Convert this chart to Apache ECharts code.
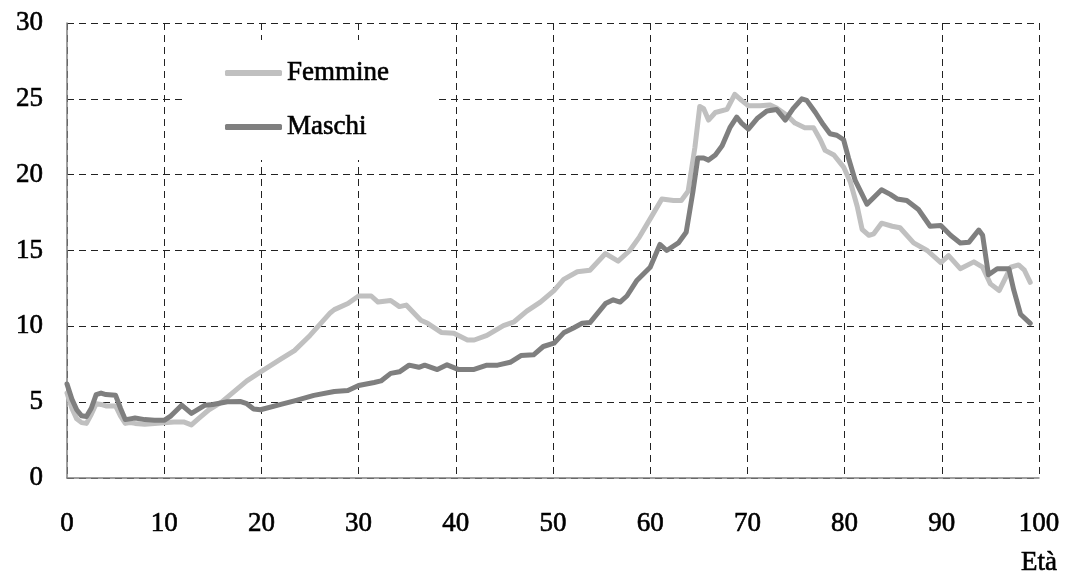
<!DOCTYPE html>
<html>
<head>
<meta charset="utf-8">
<script src="https://cdn.jsdelivr.net/npm/echarts@6/dist/echarts.min.js"></script>
<style>
html,body{margin:0;padding:0;background:#fff;}
#chart{width:1065px;height:577px;}
</style>
</head>
<body>
<div id="chart"></div>
<script>
var femmineAges = [0,0.5,1,1.5,2,2.5,3,3.5,4,5,5.5,6,6.5,7,8,9,10,11,12,12.8,13.5,14.6,15.9,17,18.5,20,21.9,23.4,25,27.1,27.5,28.9,30,31.3,32,33.3,34.2,34.9,36.4,37.1,38.5,39.8,41.2,41.9,43.2,44.9,46,47.3,48.7,50.1,51.1,52.5,53.8,55.4,56.7,57.9,58.9,60.1,61.2,62.4,63.2,63.9,64.6,65.1,65.5,66,66.7,67.9,68.7,69.4,70.1,71.3,72.3,73,74.1,74.9,75.9,76.8,77.5,78,78.9,79.9,80.6,81.3,81.8,82.5,83,83.8,84.9,85.7,87.1,88.5,89.9,90.7,91.9,93.3,94.2,95,95.9,97.1,97.9,98.5,99.1];
var femmineValues = [5.6,4.6,3.9,3.65,3.6,4.2,4.9,4.85,4.75,4.75,4.1,3.6,3.65,3.6,3.55,3.6,3.65,3.7,3.7,3.5,3.9,4.5,5.0,5.6,6.4,7.03,7.8,8.4,9.4,10.9,11.1,11.5,12.0,12.0,11.6,11.7,11.3,11.4,10.4,10.2,9.6,9.55,9.1,9.1,9.4,10.05,10.3,11.0,11.6,12.36,13.1,13.6,13.7,14.8,14.3,15.0,15.9,17.2,18.4,18.3,18.3,18.9,21.8,24.5,24.35,23.6,24.1,24.3,25.3,24.9,24.55,24.55,24.6,24.4,23.9,23.4,23.1,23.1,22.3,21.6,21.3,20.5,19.5,17.9,16.4,16.0,16.1,16.8,16.6,16.5,15.5,15.0,14.2,14.66,13.8,14.25,13.9,12.8,12.36,13.9,14.05,13.7,12.9];

var maschiAges = [0,0.5,1,1.5,2,2.5,3,3.5,4,5,5.5,6,6.5,7,8,9,10,10.7,11.8,12.8,14.2,15,16.5,17.8,18.5,19.2,19.9,22,23.4,25.4,27.5,28.9,30,31.6,32.3,33.3,34.2,35.2,36.2,36.8,38.1,39.1,40.3,41.8,43.2,44.3,45.6,46.7,48,49,50.1,51.1,52.1,53,53.8,55.4,56.2,56.9,57.6,58.6,60,61,61.7,62.9,63.7,64.4,64.9,65.5,66,66.7,67.4,68.2,68.9,69.4,70.1,71,72,73,73.9,74.7,75.6,76.1,77,77.8,78.5,79.2,79.9,80.4,81.1,81.8,82.3,83,83.8,84.7,85.4,86.4,87.6,88.8,89.9,90.9,91.9,92.8,93.8,94.2,94.8,95.7,96.9,97.4,98.1,99.1];
var maschiValues = [6.2,5.2,4.5,4.1,4.05,4.6,5.5,5.6,5.5,5.45,4.6,3.85,3.9,3.95,3.85,3.8,3.8,4.1,4.8,4.26,4.8,4.85,5.03,5.05,4.9,4.55,4.5,4.85,5.09,5.45,5.7,5.77,6.1,6.3,6.4,6.9,7.0,7.44,7.3,7.44,7.15,7.46,7.15,7.15,7.44,7.44,7.63,8.07,8.12,8.67,8.89,9.57,9.89,10.2,10.25,11.5,11.75,11.6,12.0,13.0,13.9,15.4,15.0,15.5,16.2,18.9,21.1,21.1,20.96,21.3,21.9,23.1,23.8,23.4,23.0,23.7,24.2,24.3,23.6,24.35,25.0,24.9,24.1,23.3,22.7,22.6,22.3,21.1,19.6,18.7,18.05,18.5,19.0,18.7,18.4,18.3,17.7,16.6,16.65,16.0,15.5,15.55,16.35,16.0,13.4,13.8,13.8,12.4,10.8,10.2];

var seriesNames = ['Femmine', 'Maschi'];
var xAxisName = 'Età';

function pairs(a, v) { return a.map(function (x, i) { return [x, v[i]]; }); }

var FONT = 'Liberation Serif';
var textCommon = {fontFamily: FONT, fontSize: 27, color: '#000', textBorderColor: '#000', textBorderWidth: 0.6};
var chart = echarts.init(document.getElementById('chart'), null, {renderer: 'canvas'});
chart.setOption({
  animation: false,
  backgroundColor: '#fff',
  grid: {left: 67, right: 26, top: 23, bottom: 99, containLabel: false},
  legend: {
    orient: 'vertical',
    left: 182, top: 40,
    padding: [18, 45, 18, 43],
    backgroundColor: '#fff',
    itemWidth: 57, itemHeight: 6, itemGap: 24,
    icon: 'roundRect',
    textStyle: Object.assign({lineHeight: 30}, textCommon),
    data: seriesNames
  },
  xAxis: {
    type: 'value', min: 0, max: 100, interval: 10,
    axisLine: {show: true, lineStyle: {color: '#808080', width: 1.5}},
    axisTick: {show: false},
    axisLabel: Object.assign({margin: 32}, textCommon),
    splitLine: {show: true, lineStyle: {color: '#222', width: 1, type: [7, 5]}}
  },
  yAxis: {
    type: 'value', min: 0, max: 30, interval: 5,
    axisLine: {show: true, lineStyle: {color: '#808080', width: 1.5}},
    axisTick: {show: false},
    axisLabel: Object.assign({margin: 24}, textCommon),
    splitLine: {show: true, lineStyle: {color: '#222', width: 1, type: [7, 5]}}
  },
  graphic: [{
    type: 'text', x: 1039, y: 563,
    style: {text: xAxisName, fontFamily: FONT, fontSize: 27, fill: '#000', stroke: '#000', lineWidth: 0.6, textAlign: 'center', textVerticalAlign: 'middle'}
  }],
  series: [
    {name: seriesNames[0], type: 'line', data: pairs(femmineAges, femmineValues), symbol: 'none', color: '#c0c0c0',
     lineStyle: {width: 5, color: '#c0c0c0', cap: 'round', join: 'round'}},
    {name: seriesNames[1], type: 'line', data: pairs(maschiAges, maschiValues), symbol: 'none', color: '#7f7f7f',
     lineStyle: {width: 5, color: '#7f7f7f', cap: 'round', join: 'round'}}
  ]
});
</script>
</body>
</html>
